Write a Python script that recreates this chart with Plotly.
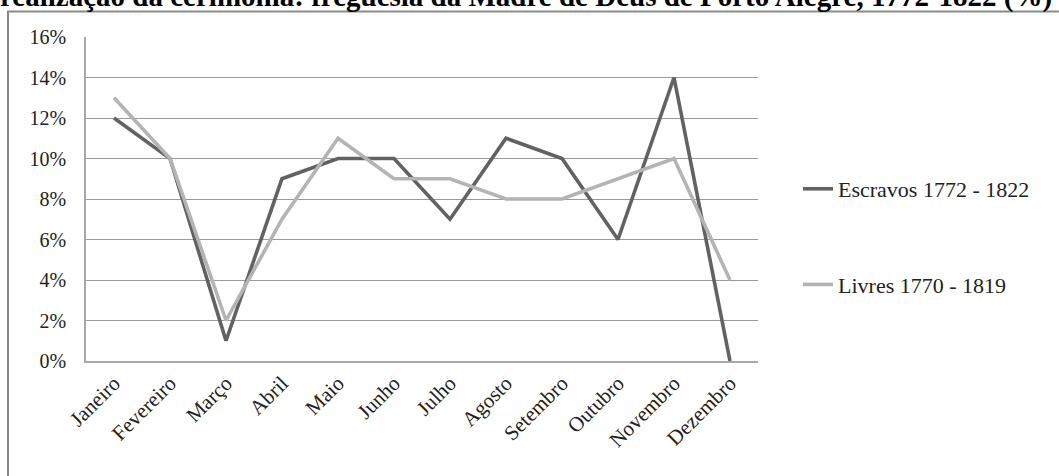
import plotly.graph_objects as go

meses = ["Janeiro", "Fevereiro", "Março", "Abril", "Maio", "Junho", "Julho",
         "Agosto", "Setembro", "Outubro", "Novembro", "Dezembro"]
escravos = [12, 10, 1, 9, 10, 10, 7, 11, 10, 6, 14, 0]
livres = [13, 10, 2, 7, 11, 9, 9, 8, 8, 9, 10, 4]
y_ticks = [0, 2, 4, 6, 8, 10, 12, 14, 16]
y_labels = [f"{v}%" for v in y_ticks]
titulo = "realização da cerimônia: freguesia da Madre de Deus de Porto Alegre, 1772-1822 (%)"

W, H = 1059, 476
L, R, T, B = 86, 758, 37, 361

serif = "Liberation Serif, Times New Roman, serif"

fig = go.Figure()
fig.add_trace(go.Scatter(x=meses, y=escravos, mode="lines", name="Escravos 1772 - 1822",
                         line=dict(color="#626262", width=3.6), legendgroup="a"))
fig.add_trace(go.Scatter(x=meses, y=livres, mode="lines", name="Livres 1770 - 1819",
                         line=dict(color="#b4b4b4", width=3.6), legendgroup="b"))

pw, ph = R - L, B - T
def px2x(p):
    return (p - L) / pw
def py2y(p):
    return (B - p) / ph

fig.add_shape(type="rect", xref="paper", yref="paper",
              x0=px2x(8), x1=px2x(1070), y0=py2y(490), y1=py2y(11.5),
              line=dict(color="#8a8a8a", width=2), fillcolor="rgba(0,0,0,0)", layer="below")

fig.add_annotation(text="<b>" + titulo + "</b>", xref="paper", yref="paper", x=px2x(-2), y=py2y(15),
                   xanchor="left", yanchor="bottom", showarrow=False,
                   font=dict(family=serif, size=29, color="black"))

fig.update_layout(
    width=W, height=H,
    margin=dict(l=L, r=W - R, t=T, b=H - B),
    paper_bgcolor="white", plot_bgcolor="white",
    showlegend=True,
    legend=dict(x=px2x(798), y=py2y(168), xanchor="left", yanchor="top",
                font=dict(family=serif, size=22, color="#222"),
                tracegroupgap=64, bgcolor="rgba(0,0,0,0)"),
    xaxis=dict(type="category", tickangle=-45, showgrid=False, showline=True,
               linecolor="#a8a8a8", linewidth=1.5, ticks="",
               tickfont=dict(family=serif, size=21, color="#222"),
               range=[-0.5, 11.5]),
    yaxis=dict(range=[0, 16], tickvals=y_ticks, ticktext=y_labels, showgrid=True,
               gridcolor="#9a9a9a", gridwidth=1.2, showline=True, linecolor="#a8a8a8",
               linewidth=1.5, zeroline=False, ticks="", ticklabelstandoff=14,
               tickfont=dict(family=serif, size=20, color="#222")),
)

fig.write_html("out.html")
